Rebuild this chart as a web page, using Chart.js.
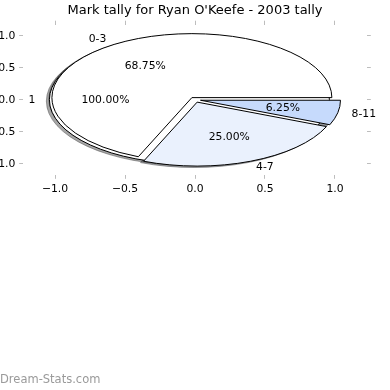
<!DOCTYPE html>
<html>
<head>
<meta charset="utf-8">
<script src="https://cdn.jsdelivr.net/npm/chart.js@4.4.1/dist/chart.umd.min.js"></script>
<style>
  html, body { margin: 0; padding: 0; background: #ffffff; }
  #wrap { position: relative; width: 390px; height: 390px; }
  #c { display: block; }
  #wm { position: absolute; left: 0; top: 372px; font-family: 'DejaVu Sans', sans-serif; font-size: 11.5px; color: #9a9a9a; }
</style>
</head>
<body>
<div id="wrap">
  <canvas id="c" width="390" height="390"></canvas>
  <div id="wm">Dream-Stats.com</div>
</div>
<script>
// ---- data ----
const TITLE = "Mark tally for Ryan O'Keefe - 2003 tally";
const CATEGORIES = ['0-3', '4-7', '8-11'];
const COUNTS = [11, 4, 1];
const TOTAL_CATEGORIES = ['1'];
const TOTAL_COUNTS = [1];
const X_TICKS = [-1, -0.5, 0, 0.5, 1];
const X_TICK_LABELS = ['\u22121.0', '\u22120.5', '0.0', '0.5', '1.0'];
const Y_TICKS = [-1, -0.5, 0, 0.5, 1];
const Y_TICK_LABELS = ['\u22121.0', '\u22120.5', '0.0', '0.5', '1.0'];

// ---- styles ----
const FONT = "'DejaVu Sans', sans-serif";
const XLIM = 1.2286, YLIM = 1.176;
const EXPLODE = 0.04;
const SHADOW_OFF = -0.02 * 78 / 72;
const PIES = [
  { labels: TOTAL_CATEGORIES, values: TOTAL_COUNTS, colors: ['#ffffff'] },
  { labels: CATEGORIES, values: COUNTS, colors: ['#ffffff', '#eaf1fd', '#c6dafc'] }
];

function shade(hex) {
  const r = parseInt(hex.slice(1,3),16), g = parseInt(hex.slice(3,5),16), b = parseInt(hex.slice(5,7),16);
  return 'rgba(' + Math.round(r*0.3) + ',' + Math.round(g*0.3) + ',' + Math.round(b*0.3) + ',0.5)';
}

function computeWedges(pie) {
  const total = pie.values.reduce((a, b) => a + b, 0);
  let t1 = 0;
  return pie.values.map((v, i) => {
    const t2 = t1 + 360 * v / total;
    const tm = (t1 + t2) / 2 * Math.PI / 180;
    const w = { t1, t2, tm, cx: EXPLODE * Math.cos(tm), cy: EXPLODE * Math.sin(tm),
                label: pie.labels[i], pct: (100 * v / total).toFixed(2) + '%', color: pie.colors[i] };
    t1 = t2;
    return w;
  });
}

function wedgePath(ctx, xs, ys, cx, cy, t1, t2) {
  const px = xs.getPixelForValue(cx), py = ys.getPixelForValue(cy);
  const rx = xs.getPixelForValue(cx + 1) - px;
  const ry = py - ys.getPixelForValue(cy + 1);
  ctx.beginPath();
  if (t2 - t1 >= 359.999) {
    ctx.ellipse(px, py, rx, ry, 0, 0, Math.PI * 2);
  } else {
    ctx.moveTo(px, py);
    ctx.ellipse(px, py, rx, ry, 0, -t1 * Math.PI / 180, -t2 * Math.PI / 180, true);
  }
  ctx.closePath();
}

const piePlugin = {
  id: 'pies',
  afterDatasetsDraw(chart) {
    const ctx = chart.ctx, xs = chart.scales.x, ys = chart.scales.y;
    const all = PIES.map(computeWedges);
    ctx.save();
    ctx.lineJoin = 'miter';
    // shadows
    all.forEach(ws => ws.forEach(w => {
      wedgePath(ctx, xs, ys, w.cx + SHADOW_OFF, w.cy + SHADOW_OFF, w.t1, w.t2);
      ctx.fillStyle = shade(w.color);
      ctx.strokeStyle = shade(w.color);
      ctx.lineWidth = 1;
      ctx.fill(); ctx.stroke();
    }));
    // wedges
    all.forEach(ws => ws.forEach(w => {
      wedgePath(ctx, xs, ys, w.cx, w.cy, w.t1, w.t2);
      ctx.fillStyle = w.color;
      ctx.strokeStyle = '#000000';
      ctx.lineWidth = 1;
      ctx.fill(); ctx.stroke();
    }));
    // texts
    ctx.fillStyle = '#000000';
    ctx.font = '10.8px ' + FONT;
    ctx.textBaseline = 'middle';
    all.forEach(ws => ws.forEach(w => {
      const lx = w.cx + 1.1 * Math.cos(w.tm), ly = w.cy + 1.1 * Math.sin(w.tm);
      ctx.textAlign = lx > 0 ? 'left' : 'right';
      ctx.fillText(w.label, xs.getPixelForValue(lx), ys.getPixelForValue(ly));
      const qx = w.cx + 0.6 * Math.cos(w.tm), qy = w.cy + 0.6 * Math.sin(w.tm);
      ctx.textAlign = 'center';
      ctx.fillText(w.pct, xs.getPixelForValue(qx), ys.getPixelForValue(qy));
    }));
    ctx.restore();
  }
};

const tickFont = { family: FONT, size: 10.8 };
const gridOpts = { drawOnChartArea: false, drawTicks: true, tickLength: 3.8, color: '#bdbdbd', lineWidth: 1 };

new Chart(document.getElementById('c'), {
  type: 'scatter',
  data: { datasets: [{ data: [], pointRadius: 0 }] },
  plugins: [piePlugin],
  options: {
    responsive: false,
    animation: false,
    devicePixelRatio: 1,
    layout: { padding: 0 },
    plugins: {
      legend: { display: false },
      tooltip: { enabled: false },
      title: { display: true, text: TITLE, color: '#000000',
               font: { family: FONT, size: 13, weight: 'normal', lineHeight: 1.2 },
               padding: { top: 3, bottom: 0 } }
    },
    scales: {
      x: {
        type: 'linear', position: 'bottom', min: -XLIM, max: XLIM,
        afterBuildTicks: s => { s.ticks = X_TICKS.map(v => ({ value: v })); },
        afterFit: s => { s.height = 215; },
        ticks: { color: '#000000', font: tickFont, padding: 3.8, maxRotation: 0, autoSkip: false,
                 callback: (v, i) => X_TICK_LABELS[X_TICKS.indexOf(v)] },
        grid: gridOpts, border: { display: false }
      },
      x2: {
        type: 'linear', axis: 'x', position: 'top', min: -XLIM, max: XLIM,
        afterBuildTicks: s => { s.ticks = X_TICKS.map(v => ({ value: v })); },
        afterFit: s => { s.height = 5.9; },
        ticks: { display: false },
        grid: gridOpts, border: { display: false }
      },
      y: {
        type: 'linear', position: 'left', min: -YLIM, max: YLIM,
        afterBuildTicks: s => { s.ticks = Y_TICKS.map(v => ({ value: v })); },
        afterFit: s => { s.width = 23; },
        ticks: { color: '#000000', font: tickFont, padding: 3.8, autoSkip: false,
                 callback: (v, i) => Y_TICK_LABELS[Y_TICKS.indexOf(v)] },
        grid: gridOpts, border: { display: false }
      },
      y2: {
        type: 'linear', axis: 'y', position: 'right', min: -YLIM, max: YLIM,
        afterBuildTicks: s => { s.ticks = Y_TICKS.map(v => ({ value: v })); },
        afterFit: s => { s.width = 23; },
        ticks: { display: false },
        grid: gridOpts, border: { display: false }
      }
    }
  }
});
</script>
</body>
</html>
